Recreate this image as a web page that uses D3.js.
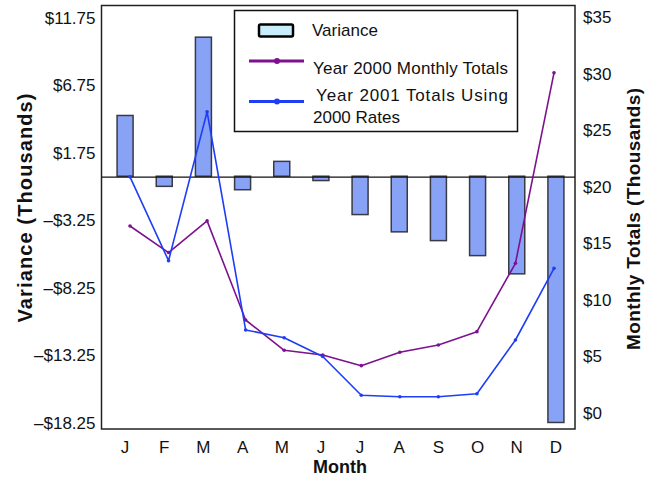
<!DOCTYPE html>
<html>
<head>
<meta charset="utf-8">
<script src="https://cdn.jsdelivr.net/npm/d3@7"></script>
<style>
  html, body { margin: 0; padding: 0; background: #fff; }
  svg { display: block; font-family: "Liberation Sans", Arial, Helvetica, sans-serif; }
</style>
</head>
<body>
<svg id="chart" width="650" height="477"></svg>
<script>
// Monthly variance (thousands) and monthly totals (thousands)
const months = ["J", "F", "M", "A", "M", "J", "J", "A", "S", "O", "N", "D"];
const variance = [4.5, -0.75, 10.3, -1.0, 1.1, -0.32, -2.84, -4.12, -4.77, -5.88, -7.23, -18.24];
const totals2000 = [16.55, 14.2, 17.0, 8.23, 5.55, 5.13, 4.19, 5.37, 6.02, 7.2, 13.25, 30.1];
const totals2001 = [20.9, 13.48, 26.66, 7.35, 6.66, 5.0, 1.57, 1.44, 1.44, 1.71, 6.46, 12.8];
const leftTicks = [11.75, 6.75, 1.75, -3.25, -8.25, -13.25, -18.25];
const rightTicks = [0, 5, 10, 15, 20, 25, 30, 35];
const seriesNames = ["Variance", "Year 2000 Monthly Totals", "Year 2001  Totals  Using", "2000 Rates"];

const svg = d3.select("#chart");
const frame = { left: 101.5, right: 575, top: 5.5, bottom: 429 };

const xBand = d3.scaleBand().domain(d3.range(12)).range([105.5, 575.5]).padding(0);
const xPoint = d3.scalePoint().domain(d3.range(12)).range([130, 554]);
const yLeft = d3.scaleLinear().domain([-18.25, 11.75]).range([422.6, 17.6]);
const yRight = d3.scaleLinear().domain([0, 35]).range([413, 17.5]);

const moneyLeft = v => (v < 0 ? "\u2013$" : "$") + Math.abs(v).toFixed(2);
const moneyRight = v => "$" + v;

// Plot frame
svg.append("rect")
  .attr("x", frame.left).attr("y", frame.top)
  .attr("width", frame.right - frame.left).attr("height", frame.bottom - frame.top)
  .attr("fill", "none").attr("stroke", "#222").attr("stroke-width", 1.5);

// Variance bars
const barW = 16;
svg.append("g").selectAll("rect").data(variance).join("rect")
  .attr("x", (d, i) => xBand(i) + xBand.bandwidth() / 2 - barW / 2)
  .attr("y", d => Math.min(yLeft(d), yLeft(0)))
  .attr("width", barW)
  .attr("height", d => Math.abs(yLeft(d) - yLeft(0)))
  .attr("fill", "#88a2f6")
  .attr("stroke", "#3a3a44").attr("stroke-width", 1.5);

// Zero line
svg.append("line")
  .attr("x1", frame.left).attr("x2", frame.right)
  .attr("y1", yLeft(0) + 0.8).attr("y2", yLeft(0) + 0.8)
  .attr("stroke", "#111").attr("stroke-width", 1.2);

// Monthly total lines
const line = d3.line().x((d, i) => xPoint(i)).y(d => yRight(d));
function drawSeries(values, color) {
  svg.append("path").datum(values)
    .attr("d", line).attr("fill", "none")
    .attr("stroke", color).attr("stroke-width", 1.6).attr("stroke-linejoin", "round");
  svg.append("g").selectAll("circle").data(values).join("circle")
    .attr("cx", (d, i) => xPoint(i)).attr("cy", d => yRight(d))
    .attr("r", 1.8).attr("fill", color);
}
drawSeries(totals2000, "#7d118f");
drawSeries(totals2001, "#1e3ef5");

// Axes
const tickFont = g => g.selectAll("text").attr("font-size", 17).attr("fill", "#111")
  .attr("font-family", "'Liberation Sans', Arial, sans-serif");

svg.append("g").attr("transform", `translate(${frame.left - 6},0)`)
  .call(d3.axisLeft(yLeft).tickValues(leftTicks).tickFormat(moneyLeft).tickSize(0).tickPadding(0))
  .call(g => g.select(".domain").remove())
  .call(tickFont);

svg.append("g").attr("transform", `translate(${frame.right + 8},0)`)
  .call(d3.axisRight(yRight).tickValues(rightTicks).tickFormat(moneyRight).tickSize(0).tickPadding(0))
  .call(g => g.select(".domain").remove())
  .call(tickFont);

svg.append("g").attr("transform", `translate(0,${frame.bottom + 12})`)
  .call(d3.axisBottom(xBand).tickFormat(i => months[i]).tickSize(0).tickPadding(0))
  .call(g => g.select(".domain").remove())
  .call(tickFont);

// Axis titles
svg.append("text")
  .attr("transform", "translate(32,208) rotate(-90)")
  .attr("text-anchor", "middle").attr("font-weight", "bold").attr("font-size", 20)
  .attr("textLength", 229).attr("lengthAdjust", "spacing")
  .attr("fill", "#111").text("Variance (Thousands)");

svg.append("text")
  .attr("transform", "translate(640,219) rotate(-90)")
  .attr("text-anchor", "middle").attr("font-weight", "bold").attr("font-size", 19)
  .attr("textLength", 262).attr("lengthAdjust", "spacing")
  .attr("fill", "#111").text("Monthly Totals (Thousands)");

svg.append("text")
  .attr("x", 340).attr("y", 473)
  .attr("text-anchor", "middle").attr("font-weight", "bold").attr("font-size", 18)
  .attr("fill", "#111").text("Month");

// Legend
const legend = svg.append("g");
legend.append("rect")
  .attr("x", 234.5).attr("y", 10.5).attr("width", 283).attr("height", 121)
  .attr("fill", "#fff").attr("stroke", "#111").attr("stroke-width", 1.5);

legend.append("rect")
  .attr("x", 259).attr("y", 24.5).attr("width", 34).attr("height", 12)
  .attr("rx", 1.5)
  .attr("fill", "#c9eefb").attr("stroke", "#000").attr("stroke-width", 2.5);

function legendLine(y, color) {
  legend.append("line").attr("x1", 249).attr("x2", 304).attr("y1", y).attr("y2", y)
    .attr("stroke", color).attr("stroke-width", 3);
  legend.append("circle").attr("cx", 277).attr("cy", y).attr("r", 3).attr("fill", color);
}
legendLine(61, "#7d118f");
legendLine(101.5, "#1e3ef5");

const legendText = (x, y, t, len) => {
  const el = legend.append("text").attr("x", x).attr("y", y)
    .attr("font-size", 17).attr("fill", "#111").text(t);
  if (len) el.attr("textLength", len).attr("lengthAdjust", "spacing");
};
legendText(312, 36, seriesNames[0]);
legendText(313, 74, seriesNames[1], 195);
legendText(316, 101, seriesNames[2], 192);
legendText(313, 123, seriesNames[3]);
</script>
</body>
</html>
